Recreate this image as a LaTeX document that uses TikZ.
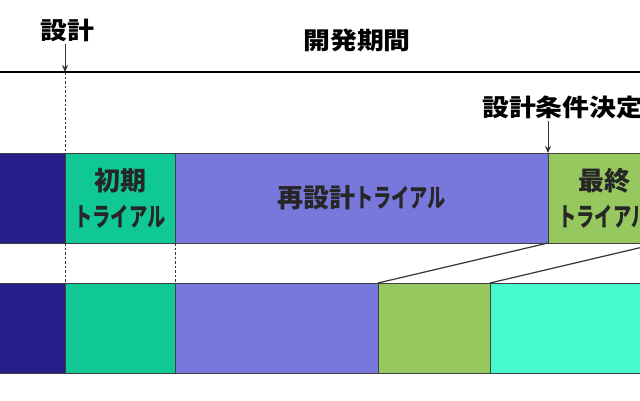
\documentclass[tikz,border=0pt]{standalone}
\usepackage{fontspec}
\setmainfont{Noto Sans CJK JP}
\usetikzlibrary{positioning,arrows.meta}
\definecolor{barnavy}{RGB}{40,30,138}
\definecolor{barteal}{RGB}{16,200,150}
\definecolor{barviolet}{RGB}{120,120,220}
\definecolor{bargreen}{RGB}{150,200,95}
\definecolor{baraqua}{RGB}{70,250,205}
\newcommand{\kana}[1]{\scalebox{0.7}[1]{#1}} % narrow katakana
\newcommand{\widen}[1]{\scalebox{1.12}[1]{#1}} % wide headings
\begin{document}
\begin{tikzpicture}[x=1pt, y=-1pt, >={Stealth[length=7pt,width=6pt]},
	seg/.style={draw=black!75, line width=.8pt, minimum height=90pt, inner sep=0pt, outer sep=0pt,
		align=center, text=black!85, font=\bfseries\fontsize{26}{36}\selectfont},
	head/.style={inner sep=2pt, font=\bfseries\fontsize{24}{28}\selectfont},
	pointer/.style={->, gray!40!black, line width=.7pt},
	guide/.style={gray!40!black, dash pattern=on 2.5pt off 2pt}]
	\clip (0,0) rectangle (640,400);
	% upper bar
	\node[seg, fill=barnavy, minimum width=75pt, anchor=north west] (t1) at (-10,153) {};
	\node[seg, fill=barteal, minimum width=110pt, right=0pt of t1] (t2) {初期\\\kana{トライアル}};
	\node[seg, fill=barviolet, minimum width=373pt, right=0pt of t2] (t3) {再設計\kana{トライアル}};
	\node[seg, fill=bargreen, minimum width=112pt, right=0pt of t3] (t4) {最終\\\kana{トライアル}};
	% lower bar
	\node[seg, fill=barnavy, minimum width=75pt, anchor=north west] (b1) at (-10,283) {};
	\node[seg, fill=barteal, minimum width=110pt, right=0pt of b1] (b2) {};
	\node[seg, fill=barviolet, minimum width=203pt, right=0pt of b2] (b3) {};
	\node[seg, fill=bargreen, minimum width=112pt, right=0pt of b3] (b4) {};
	\node[seg, fill=baraqua, minimum width=170pt, right=0pt of b4] (b5) {};
	% headings
	\node[head] (sekkei) at (67,30) {\widen{設計}};
	\node[head] (kikan) at (357,40) {\widen{開発期間}};
	\node[head, anchor=west] (kettei) at (480,107) {\widen{設計条件決定}};
	% time line
	\coordinate (L) at (0,72);
	\coordinate (R) at (640,72);
	\draw[line width=2.6pt] (L) -- (R);
	\coordinate (m1) at (t2.north west |- L);
	\draw[pointer] (sekkei.south -| m1) -- (m1);
	\draw[pointer] (kettei.south -| t4.north west) -- (t4.north west);
	\draw[guide] (m1) -- (t2.north west);
	\draw[guide] (t2.south west) -- (b2.north west);
	\draw[guide] (t3.south west) -- (b3.north west);
	\draw[gray!40!black, line width=1.2pt] (t4.south west) -- (b4.north west);
	\draw[gray!40!black, line width=1.2pt] (t4.south east) -- (b5.north west);
\end{tikzpicture}
\end{document}
